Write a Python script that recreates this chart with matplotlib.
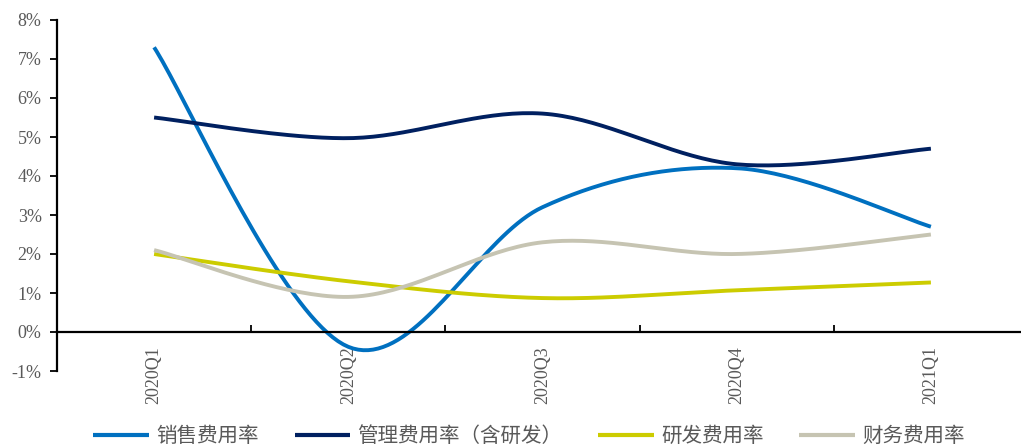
import numpy as np
import matplotlib
matplotlib.use('Agg')
import matplotlib.pyplot as plt
from matplotlib.ticker import FuncFormatter, FixedLocator

plt.rcParams['font.family'] = ['Liberation Serif', 'Noto Sans CJK SC', 'DejaVu Sans']

# quarterly expense ratios, %
quarters = ['2020Q1', '2020Q2', '2020Q3', '2020Q4', '2021Q1']
sales_rate = [7.3, -0.38, 3.2, 4.2, 2.7]
admin_rate = [5.5, 4.97, 5.6, 4.3, 4.7]
rd_rate = [2.0, 1.3, 0.87, 1.07, 1.27]
fin_rate = [2.1, 0.9, 2.3, 2.0, 2.5]

series = [
    ('销售费用率', sales_rate, '#0070C0'),
    ('管理费用率（含研发）', admin_rate, '#002060'),
    ('研发费用率', rd_rate, '#CCCC00'),
    ('财务费用率', fin_rate, '#C6C4B2'),
]


def smooth(xs, ys, n=40):
    # Catmull-Rom curve through the points, like Excel's smoothed line
    pts = np.column_stack([xs, ys]).astype(float)
    pts = np.vstack([pts[0], pts, pts[-1]])
    out = []
    t = np.linspace(0, 1, n)[:, None]
    for i in range(1, len(pts) - 2):
        p0, p1, p2, p3 = pts[i - 1], pts[i], pts[i + 1], pts[i + 2]
        seg = 0.5 * ((2 * p1) + (-p0 + p2) * t
                     + (2 * p0 - 5 * p1 + 4 * p2 - p3) * t ** 2
                     + (-p0 + 3 * p1 - 3 * p2 + p3) * t ** 3)
        out.append(seg if i == 1 else seg[1:])
    out = np.vstack(out)
    return out[:, 0], out[:, 1]


fig = plt.figure(figsize=(10.21, 4.48), dpi=100)
ax = fig.add_axes([57 / 1021, 77 / 448, 971 / 1021, 351 / 448])

x = np.arange(len(quarters))
for name, vals, color in series:
    sx, sy = smooth(x, vals)
    ax.plot(sx, sy, color=color, lw=2.8, label=name, solid_capstyle='butt')

ax.set_xlim(-0.5, len(quarters) - 0.5)
ax.set_ylim(-1, 8)
ax.set_yticks(range(-1, 9))
ax.yaxis.set_major_formatter(FuncFormatter(lambda v, p: f'{v:.0f}%'))

# category axis sits on the zero line
ax.spines['bottom'].set_position(('data', 0))
ax.spines['bottom'].set_linewidth(1.6)
ax.spines['left'].set_linewidth(1.6)
ax.spines['top'].set_visible(False)
ax.spines['right'].set_visible(False)
ax.xaxis.set_major_locator(FixedLocator(np.arange(-0.5, len(quarters), 1.0)))
ax.xaxis.set_minor_locator(FixedLocator(x))
ax.xaxis.set_major_formatter(plt.NullFormatter())
ax.set_xticks(x, quarters, minor=True, rotation=90)
ax.tick_params(axis='x', which='major', direction='in', length=5, width=1.3)
ax.tick_params(axis='x', which='minor', length=0, pad=10,
               labelsize=13, labelcolor='#595959')
ax.tick_params(axis='y', direction='out', length=5, width=1.3, pad=6,
               labelsize=13, labelcolor='#595959')
for lbl in ax.get_xticklabels(minor=True):
    lbl.set_verticalalignment('top')

leg = fig.legend(loc='lower center', bbox_to_anchor=(529 / 1021, -0.04), ncol=4,
                 frameon=False, handlelength=2.7, handletextpad=0.35,
                 columnspacing=1.75,
                 prop={'family': ['Noto Sans CJK SC'], 'size': 14.8})
for t in leg.get_texts():
    t.set_color('#595959')
for h in leg.get_lines():
    h.set_linewidth(3)

fig.savefig('out.png', dpi=100)
